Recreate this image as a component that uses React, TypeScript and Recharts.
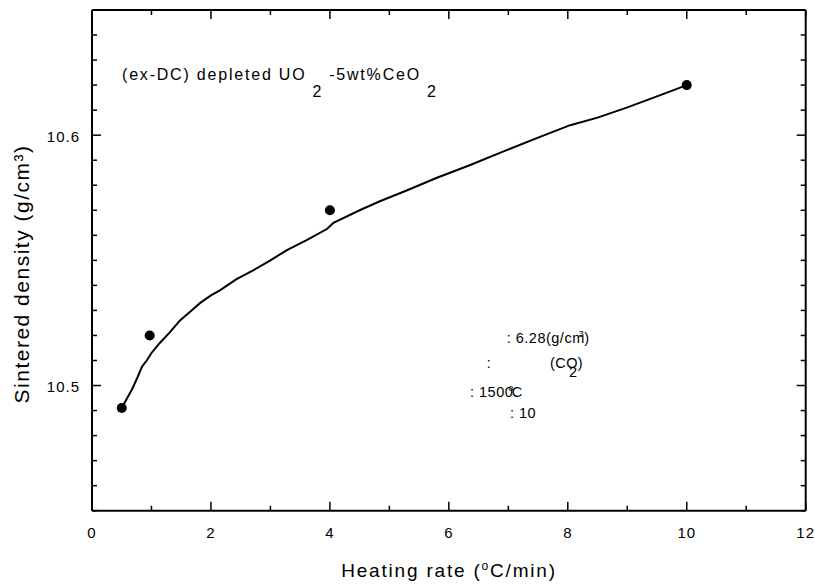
// Sintered density vs heating rate — measured pellets plus the fitted trend.
import { ComposedChart, Line, Scatter, XAxis, YAxis } from 'recharts';

const FONT = '"Liberation Sans", Arial, sans-serif';

// measured pellets
const measuredRate = [0.5, 0.97, 4.0, 10.0];
const measuredDensity = [10.491, 10.52, 10.57, 10.62];

// fitted trend
const curveRate = [
  0.5, 0.58, 0.67, 0.76, 0.84, 0.92, 1.0, 1.14, 1.3, 1.48, 1.65, 1.82, 2.0, 2.15,
  2.43, 2.71, 3.0, 3.27, 3.6, 3.95, 4.06, 4.5, 4.84, 5.3, 5.8, 6.35, 6.92, 7.5,
  8.04, 8.5, 8.99, 9.5, 10.0,
];
const curveDensity = [
  10.491, 10.4945, 10.4983, 10.503, 10.5075, 10.51, 10.513, 10.517, 10.521,
  10.526, 10.5295, 10.533, 10.536, 10.538, 10.5425, 10.546, 10.55, 10.554,
  10.558, 10.5625, 10.565, 10.57, 10.5736, 10.578, 10.583, 10.588, 10.5935,
  10.599, 10.604, 10.607, 10.611, 10.6155, 10.62,
];

const xTicks = [0, 1, 2, 3, 4, 5, 6, 7, 8, 9, 10, 11, 12];
const xLabelled = [0, 2, 4, 6, 8, 10, 12];
const yTicks = [
  10.45, 10.46, 10.47, 10.48, 10.49, 10.5, 10.51, 10.52, 10.53, 10.54, 10.55,
  10.56, 10.57, 10.58, 10.59, 10.6, 10.61, 10.62, 10.63, 10.64, 10.65,
];
const yLabelled = ['10.5', '10.6'];

const measured = measuredRate.map((rate, i) => ({ rate, density: measuredDensity[i] }));
const curve = curveRate.map((rate, i) => ({ rate, density: curveDensity[i] }));

const W = 807;
const H = 570;
const BOX_H = 577;

const isMajorX = (v: number) => xLabelled.includes(v);
const isMajorY = (v: number) =>
  yLabelled.includes(v.toFixed(1)) && Math.abs(v * 10 - Math.round(v * 10)) < 1e-6;

const tickText = { fontFamily: FONT, fontSize: 15, letterSpacing: 1, fill: '#000' };

function BottomTick({ x, y, payload }: any) {
  const v = payload.value as number;
  const major = isMajorX(v);
  return (
    <g>
      <line x1={x} y1={y} x2={x} y2={y - (major ? 9 : 5)} stroke="#000" strokeWidth={1.5} />
      {major && (
        <text x={x} y={y + 27.5} textAnchor="middle" style={tickText}>
          {v}
        </text>
      )}
    </g>
  );
}

function TopTick({ x, y, payload }: any) {
  const major = isMajorX(payload.value);
  return <line x1={x} y1={y} x2={x} y2={y + (major ? 9 : 5)} stroke="#000" strokeWidth={1.5} />;
}

function LeftTick({ x, y, payload }: any) {
  const v = payload.value as number;
  const major = isMajorY(v);
  return (
    <g>
      <line x1={x} y1={y} x2={x + (major ? 9 : 5)} y2={y} stroke="#000" strokeWidth={1.5} />
      {major && (
        <text x={x - 12} y={y + 6.5} textAnchor="end" style={tickText}>
          {v.toFixed(1)}
        </text>
      )}
    </g>
  );
}

function RightTick({ x, y, payload }: any) {
  const major = isMajorY(payload.value);
  return <line x1={x} y1={y} x2={x - (major ? 9 : 5)} y2={y} stroke="#000" strokeWidth={1.5} />;
}

const Dot = (props: any) => <circle cx={props.cx} cy={props.cy} r={5} fill="#000" />;

function Annotations() {
  const t = { fontFamily: FONT, fill: '#000' };
  return (
    <svg
      width={W}
      height={BOX_H}
      style={{ position: 'absolute', left: 0, top: 0, pointerEvents: 'none' }}
    >
      <text x={114} y={72} style={{ ...t, fontSize: 16, letterSpacing: 1.8 }}>
        (ex-DC) depleted UO
        <tspan dx={6} dy={17}>2</tspan>
        <tspan dx={6} dy={-17}>-5wt%CeO</tspan>
        <tspan dx={6} dy={17}>2</tspan>
      </text>

      <text
        transform="translate(21 266) rotate(-90)"
        textAnchor="middle"
        style={{ ...t, fontSize: 21, letterSpacing: 1.5 }}
      >
        Sintered density (g/cm³)
      </text>
      <text x={441} y={569} textAnchor="middle" style={{ ...t, fontSize: 19, letterSpacing: 1.8 }}>
        Heating rate (
        <tspan fontSize={12} dy={-7}>o</tspan>
        <tspan dy={7}>C/min)</tspan>
      </text>

      <g style={{ ...t, fontSize: 14.5, letterSpacing: 0.5 }}>
        <text x={498.7} y={335.3}>
          : 6.28(g/cm
          <tspan fontSize={9} dx={-6} dy={-6}>3</tspan>
          <tspan dy={6}>)</tspan>
        </text>
        <text x={478.7} y={360}>:</text>
        <text x={542} y={360}>
          (CO
          <tspan dx={-9} dy={9}>2</tspan>
          <tspan dy={-9}>)</tspan>
        </text>
        <text x={462} y={388.7}>
          : 1500
          <tspan fontSize={9} dx={-5} dy={-6}>o</tspan>
          <tspan dx={-2} dy={6}>C</tspan>
        </text>
        <text x={502} y={410}>: 10</text>
      </g>
    </svg>
  );
}

const frameLine = { stroke: '#000', strokeWidth: 2 };

export default function App() {
  return (
    // body margin dropped and replaced by padding so the page box spans the full 815px
    <div style={{ width: 815, height: 585, padding: '8px 0 0 8px', boxSizing: 'border-box' }}>
      <style>{'body { margin: 0; }'}</style>
      <div style={{ position: 'relative', width: W, height: BOX_H }}>
        <ComposedChart width={W} height={H} margin={{ top: 1, right: 8.3, bottom: 0, left: 0 }}>
          <XAxis
            xAxisId="b"
            dataKey="rate"
            type="number"
            domain={[0, 12]}
            ticks={xTicks}
            interval={0}
            height={67.3}
            tickSize={0}
            tickMargin={0}
            tickLine={false}
            axisLine={frameLine}
            tick={(p: any) => <BottomTick {...p} />}
            allowDataOverflow
          />
          <XAxis
            xAxisId="t"
            dataKey="rate"
            orientation="top"
            type="number"
            domain={[0, 12]}
            ticks={xTicks}
            interval={0}
            height={1}
            tickSize={0}
            tickMargin={0}
            tickLine={false}
            axisLine={frameLine}
            tick={(p: any) => <TopTick {...p} />}
            allowDataOverflow
          />
          <YAxis
            yAxisId="l"
            dataKey="density"
            type="number"
            domain={[10.45, 10.65]}
            ticks={yTicks}
            interval={0}
            width={84}
            tickSize={0}
            tickMargin={0}
            tickLine={false}
            axisLine={frameLine}
            tick={(p: any) => <LeftTick {...p} />}
            allowDataOverflow
          />
          <YAxis
            yAxisId="r"
            dataKey="density"
            orientation="right"
            type="number"
            domain={[10.45, 10.65]}
            ticks={yTicks}
            interval={0}
            width={1}
            tickSize={0}
            tickMargin={0}
            tickLine={false}
            axisLine={frameLine}
            tick={(p: any) => <RightTick {...p} />}
            allowDataOverflow
          />
          <Line
            xAxisId="b"
            yAxisId="l"
            data={curve}
            dataKey="density"
            type="linear"
            stroke="#000"
            strokeWidth={2}
            dot={false}
            activeDot={false}
            isAnimationActive={false}
          />
          <Scatter
            xAxisId="b"
            yAxisId="l"
            data={measured}
            dataKey="density"
            shape={Dot}
            isAnimationActive={false}
          />
          {/* invisible series so the mirrored top/right axes get drawn */}
          <Scatter
            xAxisId="t"
            yAxisId="r"
            data={measured}
            dataKey="density"
            shape={() => <g />}
            isAnimationActive={false}
          />
        </ComposedChart>
        <Annotations />
      </div>
    </div>
  );
}
